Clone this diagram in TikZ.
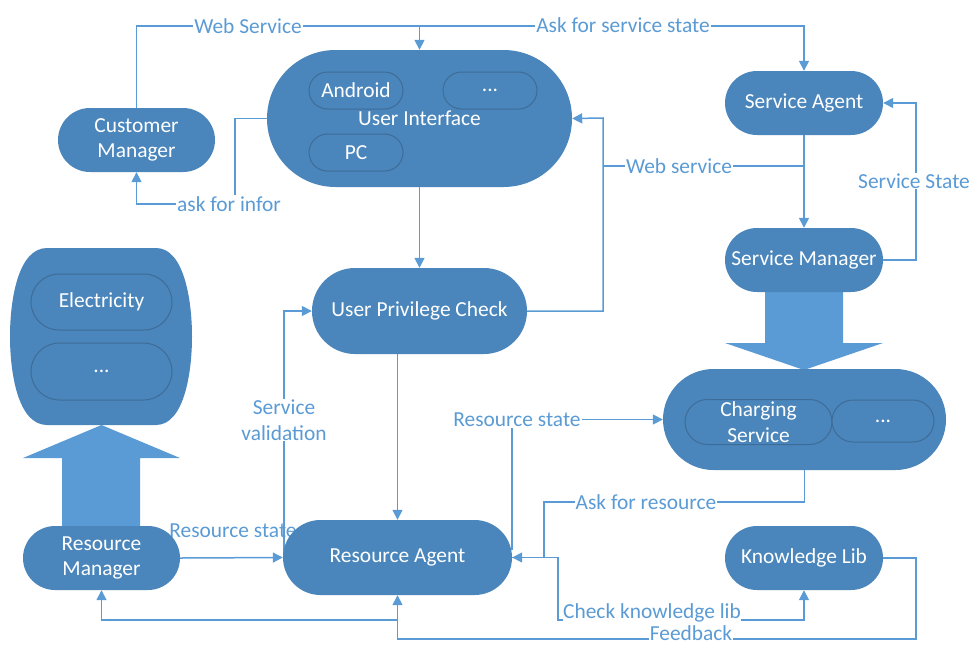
\documentclass[tikz,border=0pt]{standalone}
\usepackage{fontspec}
\setmainfont{Carlito}
\usetikzlibrary{shapes.misc,arrows.meta}
\definecolor{nfill}{RGB}{74,134,187}
\definecolor{ndraw}{RGB}{62,108,152}
\definecolor{lblue}{RGB}{91,155,213}
\pgfdeclarelayer{bg}
\pgfsetlayers{bg,main}
\begin{document}
\begin{tikzpicture}[x=1pt,y=-1pt,
  font=\fontsize{21.4}{25.5}\selectfont,
  box/.style={rounded rectangle, fill=nfill, draw=none, text=white, align=center, inner sep=0pt},
  inbox/.style={rounded rectangle, fill=nfill, draw=ndraw, line width=1pt, text=white, align=center, inner sep=0pt},
  conn/.style={draw=lblue, line width=1.5pt},
  arr/.style={conn, -{Triangle[length=10pt,width=10pt]}},
  lbl/.style={text=lblue, fill=white, inner sep=1pt, align=center},
  bigarrow/.style={fill=lblue, draw=none}]
\useasboundingbox (0,0) rectangle (973,646);

% label partly hidden by Resource Agent
\node[text=lblue, inner sep=0pt] (lrs1) at (233,531) {Resource state};

% main nodes
\node[box, minimum width=157pt, minimum height=64pt] (cm) at (136.5,140) {Customer\\Manager};
\node[box, minimum width=305pt, minimum height=137pt] (ui) at (419.5,118.5) {User Interface};
\node[inbox, minimum width=94pt, minimum height=37pt] (android) at (356,90.5) {Android};
\node[inbox, minimum width=94pt, minimum height=37pt] (uidots) at (490,90.5) {...};
\node[inbox, minimum width=94pt, minimum height=37pt] (pc) at (356,152.5) {PC};

\node[box, minimum width=158pt, minimum height=64pt] (sa) at (804,103) {Service Agent};
\node[box, minimum width=158pt, minimum height=64pt] (sm) at (804,260) {Service Manager};

\node[box, minimum width=283pt, minimum height=101pt] (cs) at (804.5,419.5) {};
\node[inbox, minimum width=147pt, minimum height=45pt] (charging) at (758.5,422) {Charging\\Service};
\node[inbox, minimum width=102pt, minimum height=42pt] (csdots) at (883,421) {...};

\node[box, minimum width=215pt, minimum height=86pt] (upc) at (419.5,311) {User Privilege Check};
\node[box, minimum width=229pt, minimum height=75pt] (ra) at (397.5,557.5) {Resource Agent};
\node[box, minimum width=157pt, minimum height=64pt] (rm) at (101.5,558) {Resource\\Manager};
\node[box, minimum width=158pt, minimum height=64pt] (kl) at (804,558) {Knowledge Lib};

% resource container
\fill[nfill] (47,248) -- (156,248) .. controls (184,248) and (192,300) .. (192,336.5)
  .. controls (192,373) and (184,425) .. (156,425) -- (47,425)
  .. controls (18,425) and (10,373) .. (10,336.5) .. controls (10,300) and (18,248) .. (47,248) -- cycle;
\node[inbox, minimum width=141pt, minimum height=56pt] (elec) at (101.5,302) {Electricity};
\node[inbox, minimum width=141pt, minimum height=57pt] (rdots) at (101.5,371.5) {...};

\begin{pgfonlayer}{bg}
  % big arrows
  \fill[bigarrow] (765,285) -- (843,285) -- (843,343) -- (883,343) -- (804,370) -- (725,343) -- (765,343) -- cycle;
  \fill[bigarrow] (62,530) -- (140,530) -- (140,458) -- (180,458) -- (101.5,425) -- (23,458) -- (62,458) -- cycle;

  \coordinate (top) at (419.5,26);
  \draw[arr] (cm.north) |- (top) -- (ui.north);
  \draw[arr] (top) -| (sa.north);
  \draw[arr] (ui.west) -| (235,204) -| (cm.south);
  \draw[arr] (ui.south) -- (upc.north);
  \draw[arr] (upc.east) -| (603,118) -- (ui.east);
  \coordinate (ws) at (804,166);
  \draw[conn] (ws) -- (603,166);
  \draw[arr] (sa.south) -- (sm.north);
  \draw[arr] (sm.east) -| (916,103) -- (sa.east);
  \draw[arr] (ra.north |- upc.south) -- (ra.north);
  \draw[arr] (284,555) |- (upc.west);
  \draw[arr] (rm.east) -- (ra.west);
  \draw[arr] (512,550) |- (cs.west);
  \draw[arr] (cs.south) |- (544,502) |- (ra.east);
  \draw[arr] (ra.east) -| (558,620) -| (kl.south);
  \draw[arr] (kl.east) -| (916,639) -| (ra.south);
  \coordinate (fb) at (398,620);
  \draw[arr] (fb) -| (rm.south);
\end{pgfonlayer}

% connector labels
\node[lbl] (l1) at (248,26) {Web Service};
\node[lbl] (l2) at (623,25) {Ask for service state};
\node[lbl] (l3) at (229,204) {ask for infor};
\node[lbl] (l4) at (679,166) {Web service};
\node[lbl] (l5) at (914,181) {Service State};
\node[lbl] (l6) at (284,420) {Service\\validation};
\node[lbl] (l7) at (517,420) {Resource state};
\node[lbl] (l8) at (646,502) {Ask for resource};
\node[lbl, inner sep=0.5pt] (l9) at (652,613) {Check knowledge lib};
\node[lbl, inner sep=1pt] (l10) at (691,633) {Feedback};
\end{tikzpicture}
\end{document}
